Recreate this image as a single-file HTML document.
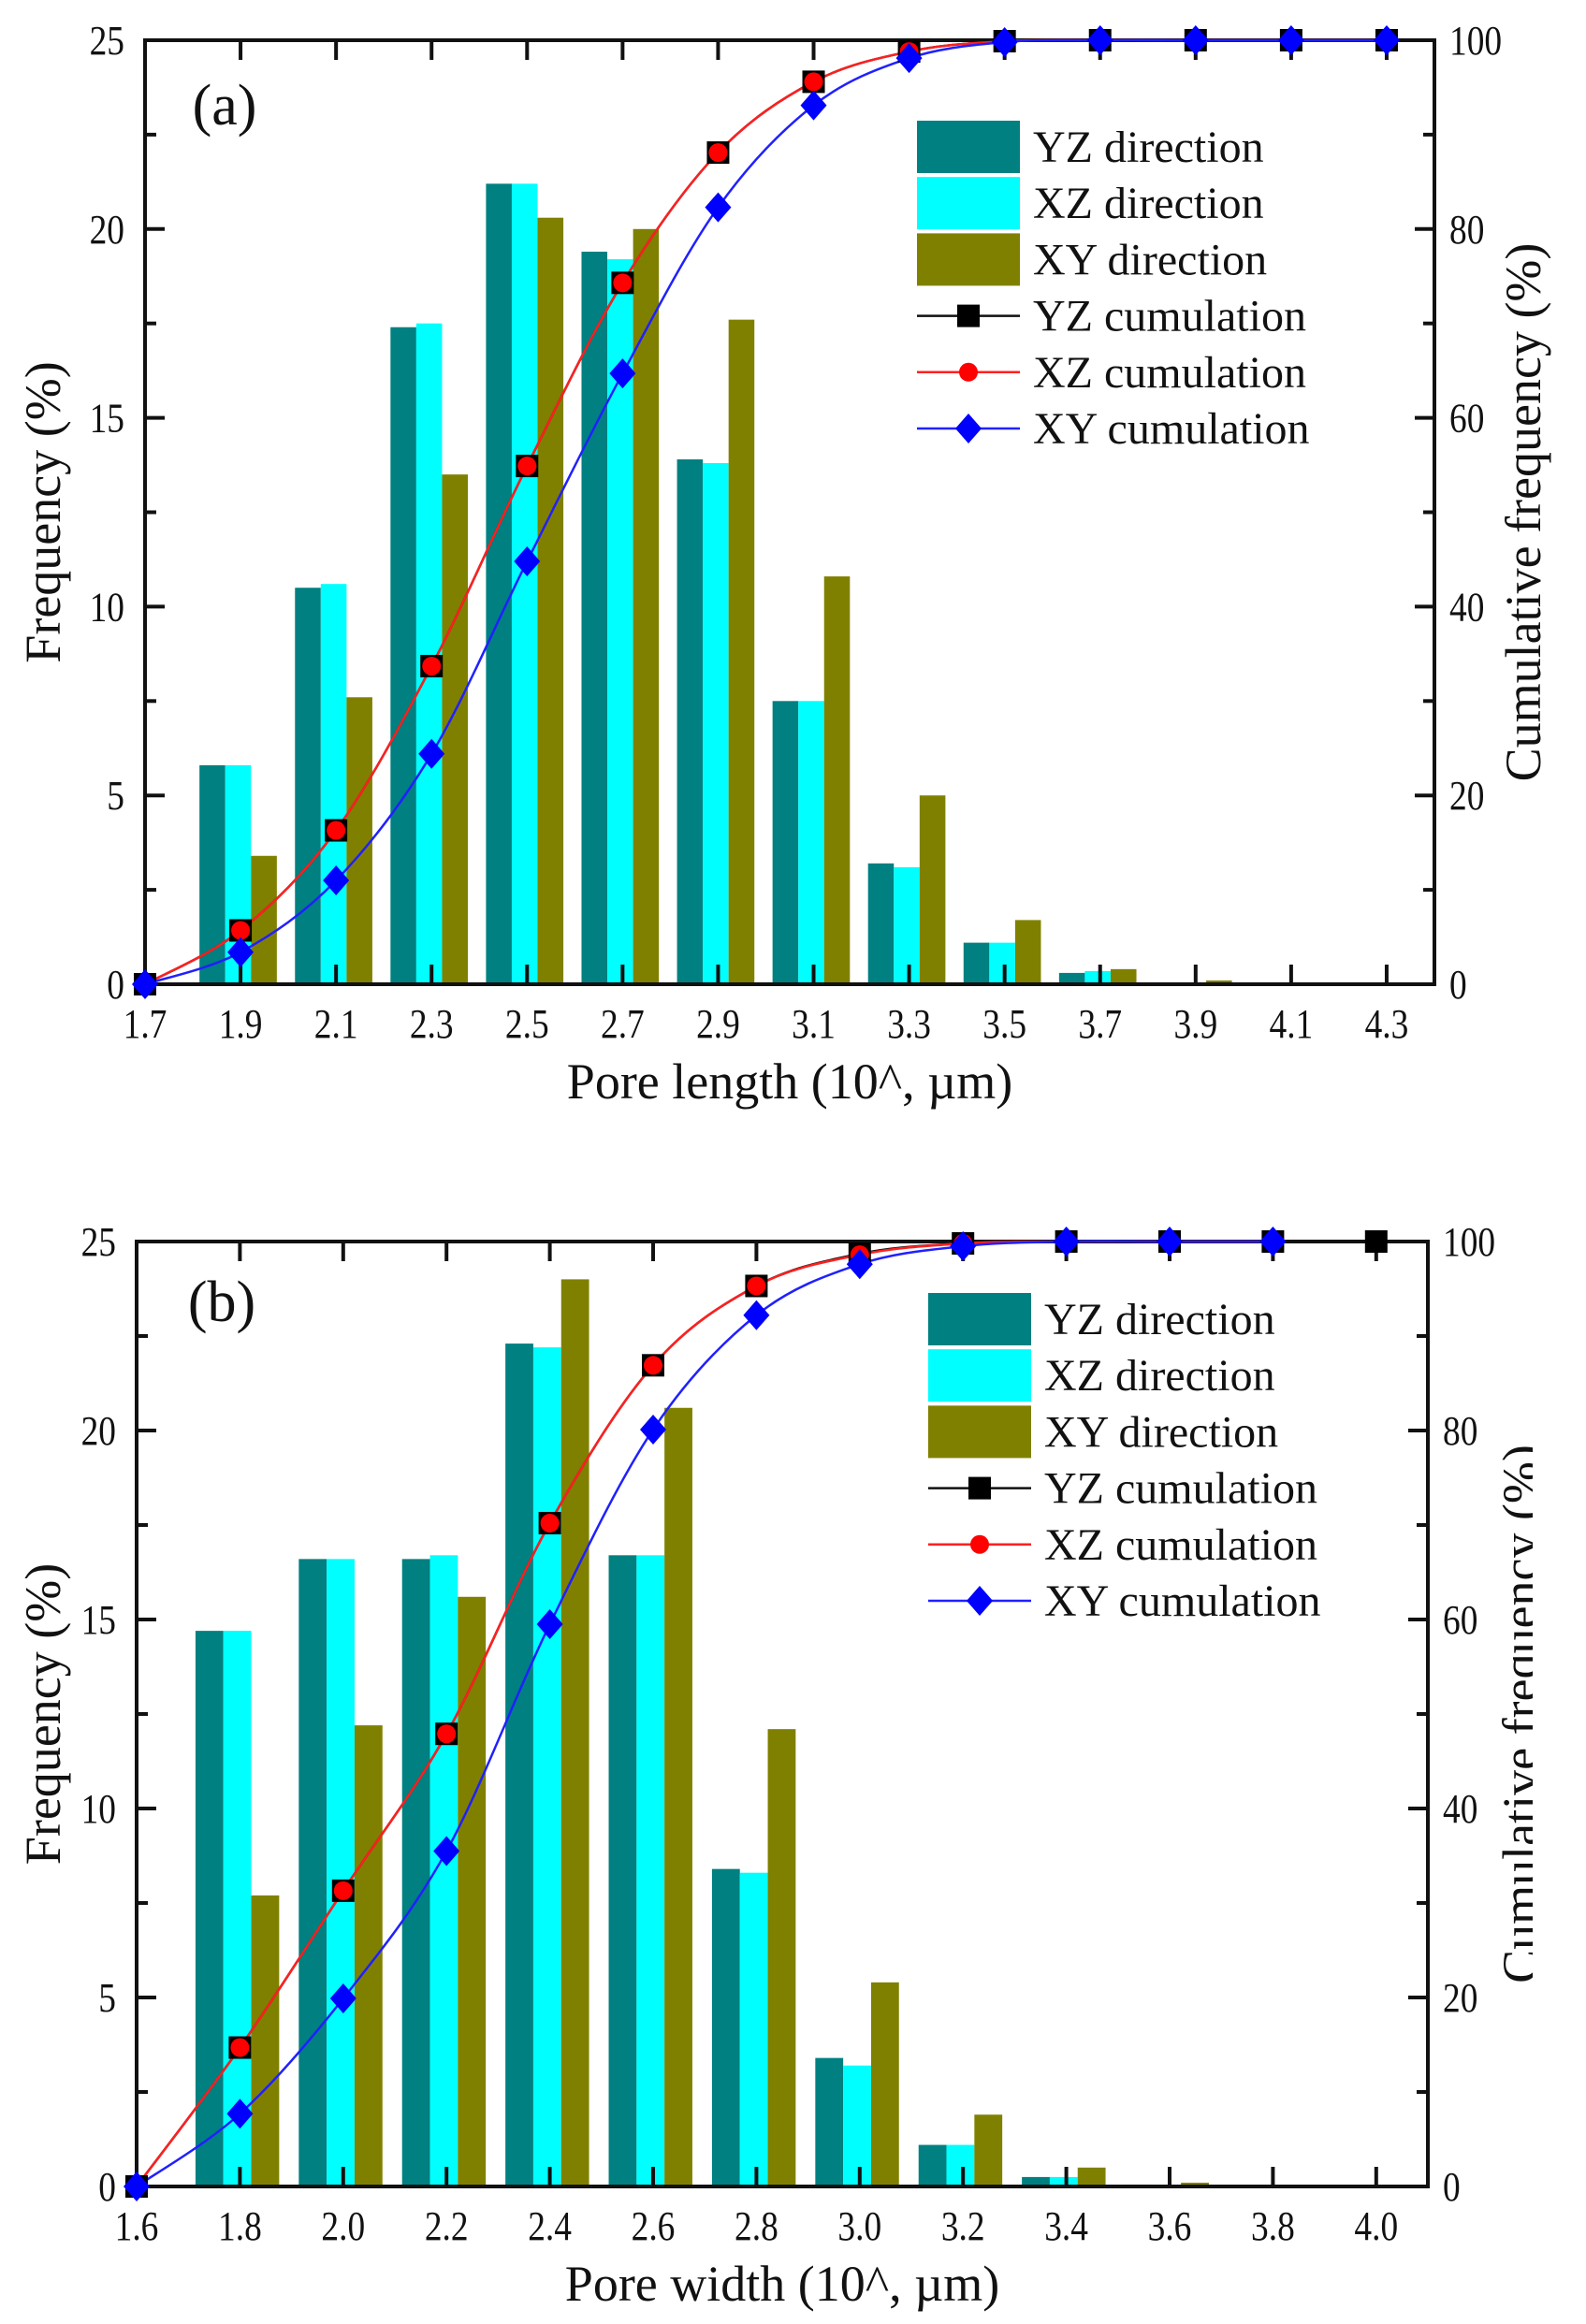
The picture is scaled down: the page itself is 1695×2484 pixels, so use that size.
<!DOCTYPE html>
<html><head><meta charset="utf-8"><style>
html,body{margin:0;padding:0;background:#fff;width:1695px;height:2484px;overflow:hidden}
svg{display:block}
text{font-family:"Liberation Serif",serif;fill:#111}
</style></head><body>
<svg id="chart" width="1695" height="2484" viewBox="0 0 1695 2484" xmlns="http://www.w3.org/2000/svg"></svg>
<script>
// Panel (a) data
const catsA = [1.9,2.1,2.3,2.5,2.7,2.9,3.1,3.3,3.5,3.7,3.9];
const yzA = [5.8,10.5,17.4,21.2,19.4,13.9,7.5,3.2,1.1,0.3,0.05];
const xzA = [5.8,10.6,17.5,21.2,19.2,13.8,7.5,3.1,1.1,0.35,0.05];
const xyA = [3.4,7.6,13.5,20.3,20.0,17.6,10.8,5.0,1.7,0.4,0.1];
const cumXA = [1.7,1.9,2.1,2.3,2.5,2.7,2.9,3.1,3.3,3.5,3.7,3.9,4.1,4.3];
const yzCumA = [0,5.7,16.3,33.7,54.9,74.3,88.1,95.6,98.8,99.9,100,100,100,100];
const xzCumA = [0,5.7,16.3,33.7,54.9,74.3,88.1,95.6,98.8,99.9,100,100,100,100];
const xyCumA = [0,3.4,11.0,24.4,44.8,64.7,82.3,93.1,98.1,99.8,100,100,100,100];
const xTicksA = ["1.7","1.9","2.1","2.3","2.5","2.7","2.9","3.1","3.3","3.5","3.7","3.9","4.1","4.3"];
// Panel (b) data
const catsB = [1.8,2.0,2.2,2.4,2.6,2.8,3.0,3.2,3.4,3.6];
const yzB = [14.7,16.6,16.6,22.3,16.7,8.4,3.4,1.1,0.25,0.05];
const xzB = [14.7,16.6,16.7,22.2,16.7,8.3,3.2,1.1,0.25,0.05];
const xyB = [7.7,12.2,15.6,24.0,20.6,12.1,5.4,1.9,0.5,0.1];
const cumXB = [1.6,1.8,2.0,2.2,2.4,2.6,2.8,3.0,3.2,3.4,3.6,3.8,4.0];
const yzCumB = [0,14.7,31.3,47.9,70.2,86.9,95.3,98.7,99.8,100,100,100,100];
const xzCumB = [0,14.7,31.3,47.9,70.2,86.9,95.3,98.6,99.8,100,100,100];
const xyCumB = [0,7.7,19.9,35.5,59.5,80.1,92.2,97.6,99.5,100,100,100];
const xTicksB = ["1.6","1.8","2.0","2.2","2.4","2.6","2.8","3.0","3.2","3.4","3.6","3.8","4.0"];
const yTicksL = ["0","5","10","15","20","25"];
const yTicksR = ["0","20","40","60","80","100"];

const NS="http://www.w3.org/2000/svg";
const svg=document.getElementById('chart');
function mk(tag,attrs,parent){const e=document.createElementNS(NS,tag);for(const k in attrs)e.setAttribute(k,attrs[k]);(parent||svg).appendChild(e);return e;}
function txt(s,attrs,parent){const e=mk('text',attrs,parent);e.textContent=s;return e;}
function smooth(pts){
  let d='M'+pts[0][0]+','+pts[0][1];
  for(let i=0;i<pts.length-1;i++){
    const p0=pts[i-1]||pts[i],p1=pts[i],p2=pts[i+1],p3=pts[i+2]||p2;
    const c1=[p1[0]+(p2[0]-p0[0])/6,p1[1]+(p2[1]-p0[1])/6];
    const c2=[p2[0]-(p3[0]-p1[0])/6,p2[1]-(p3[1]-p1[1])/6];
    d+=' C'+c1[0]+','+c1[1]+' '+c2[0]+','+c2[1]+' '+p2[0]+','+p2[1];
  }
  return d;
}
function panel(cfg){
  const g=mk('g',{});
  
  
  const {L,R,T,B,x0,x1}=cfg;
  const X=v=>L+(v-x0)/(x1-x0)*(R-L);
  const Y=v=>B-v/25*(B-T);
  const Y2=v=>B-v/100*(B-T);
  const step=(X(x0+0.2)-X(x0));
  const bw=0.27*step;
  const series=[[cfg.yz,'#008080',-0.43,'bar-yz'],[cfg.xz,'#00FFFF',-0.16,'bar-xz'],[cfg.xy,'#808000',0.11,'bar-xy']];
  series.forEach(s=>{
    cfg.cats.forEach((c,i)=>{
      const v=s[0][i];
      const r=mk('rect',{x:X(c)+s[2]*step,y:Y(v),width:bw,height:B-Y(v),fill:s[1]},g);
      
      
    });
  });
  const fr=mk('rect',{x:L,y:T,width:R-L,height:B-T,fill:'none',stroke:'#111','stroke-width':4},g);
  
  
  cfg.xt.forEach(t=>{
    const x=X(parseFloat(t));
    mk('line',{x1:x,x2:x,y1:B,y2:B-21,stroke:'#111','stroke-width':4},g);
    mk('line',{x1:x,x2:x,y1:T,y2:T+21,stroke:'#111','stroke-width':4},g);
    const e=txt(t,{x:0,y:0,'font-size':44,'text-anchor':'middle',transform:`translate(${x},${B+57}) scale(0.85,1)`},g);
    
    
  });
  for(let k=0;k<=10;k++){
    const y=B-k/10*(B-T);const len=k%2==0?21:12;
    mk('line',{x1:L,x2:L+len,y1:y,y2:y,stroke:'#111','stroke-width':4},g);
    mk('line',{x1:R,x2:R-len,y1:y,y2:y,stroke:'#111','stroke-width':4},g);
  }
  yTicksL.forEach(t=>{
    const e=txt(t,{x:0,y:0,'font-size':44,'text-anchor':'end',transform:`translate(${L-22},${Y(parseFloat(t))+15}) scale(0.85,1)`},g);
    
    
  });
  yTicksR.forEach(t=>{
    const e=txt(t,{x:0,y:0,'font-size':44,transform:`translate(${R+16},${Y2(parseFloat(t))+15}) scale(0.85,1)`},g);
    
    
  });
  const lines=[[cfg.yzc,'#111','sq','yz-cumulation-line'],[cfg.xzc,'#ff2020','ci','xz-cumulation-line'],[cfg.xyc,'#2020ff','di','xy-cumulation-line']];
  lines.forEach(l=>{
    const pts=l[0].map((v,i)=>[X(cfg.cx[i]),Y2(v)]);
    const p=mk('path',{d:smooth(pts),fill:'none',stroke:l[1],'stroke-width':2.5},g);
    
    
  });
  lines.forEach(l=>{
    l[0].forEach((v,i)=>{
      const x=X(cfg.cx[i]),y=Y2(v);let m;
      if(l[2]=='sq')m=mk('rect',{x:x-12,y:y-12,width:24,height:24,fill:'#000'},g);
      else if(l[2]=='ci')m=mk('circle',{cx:x,cy:y,r:10,fill:'#ff0000'},g);
      else m=mk('path',{d:`M${x},${y-16} L${x+14},${y} L${x},${y+16} L${x-14},${y} Z`,fill:'#0000ff'},g);
      
      
    });
  });
  const lg=mk('g',{},g);
  
  
  const items=[['YZ direction','box','#008080'],['XZ direction','box','#00FFFF'],['XY direction','box','#808000'],['YZ cumulation','sq','#111'],['XZ cumulation','ci','#ff2020'],['XY cumulation','di','#2020ff']];
  items.forEach((it,i)=>{
    const cy=cfg.lgY+i*cfg.lgDy, x0l=cfg.lgX, x1l=cfg.lgX+110, xm=(x0l+x1l)/2;
    if(it[1]=='box')mk('rect',{x:x0l,y:cy-28,width:110,height:56,fill:it[2]},lg);
    else{
      mk('line',{x1:x0l,x2:x1l,y1:cy,y2:cy,stroke:it[2],'stroke-width':2.5},lg);
      if(it[1]=='sq')mk('rect',{x:xm-12,y:cy-12,width:24,height:24,fill:'#000'},lg);
      else if(it[1]=='ci')mk('circle',{cx:xm,cy:cy,r:10,fill:'#ff0000'},lg);
      else mk('path',{d:`M${xm},${cy-16} L${xm+14},${cy} L${xm},${cy+16} L${xm-14},${cy} Z`,fill:'#0000ff'},lg);
    }
    const e=txt(it[0],{x:x1l+14,y:cy+16,'font-size':48},lg);
    
    
  });
  const pl=txt(cfg.label,{x:cfg.labX,y:cfg.labY,'font-size':62,'text-anchor':'middle'},g);
  
  
  const xt=txt(cfg.xtitle,{x:(L+R)/2,y:B+122,'font-size':54,'text-anchor':'middle'},g);
  
  
  const cyM=(T+B)/2;
  const yl=txt('Frequency (%)',{x:0,y:0,'font-size':54,'text-anchor':'middle',transform:`translate(64,${cyM}) rotate(-90)`},g);
  
  
  const yr=txt('Cumulative frequency (%)',{x:0,y:0,'font-size':54,'text-anchor':'middle',transform:`translate(${cfg.rtX},${cyM}) rotate(-90)`},g);
  
  
  if(cfg.clip){mk('rect',{x:cfg.clip,y:T-50,width:1695-cfg.clip,height:B-T+100,fill:'#fff'},g);}
}
panel({name:'panel-a-pore-length',L:155,R:1533,T:43,B:1052,x0:1.7,x1:4.4,cats:catsA,yz:yzA,xz:xzA,xy:xyA,cx:cumXA,yzc:yzCumA,xzc:xzCumA,xyc:xyCumA,xt:xTicksA,lgX:980,lgY:157,lgDy:60.2,label:'(a)',labX:240,labY:133,xtitle:'Pore length (10^, µm)',rtX:1646});
panel({name:'panel-b-pore-width',L:146,R:1526,T:1327,B:2337,x0:1.6,x1:4.1,cats:catsB,yz:yzB,xz:xzB,xy:xyB,cx:cumXB,yzc:yzCumB,xzc:xzCumB,xyc:xyCumB,xt:xTicksB,lgX:992,lgY:1410,lgDy:60.2,label:'(b)',labX:237,labY:1412,xtitle:'Pore width (10^, µm)',rtX:1643,clip:1638});
</script>
</body></html>
